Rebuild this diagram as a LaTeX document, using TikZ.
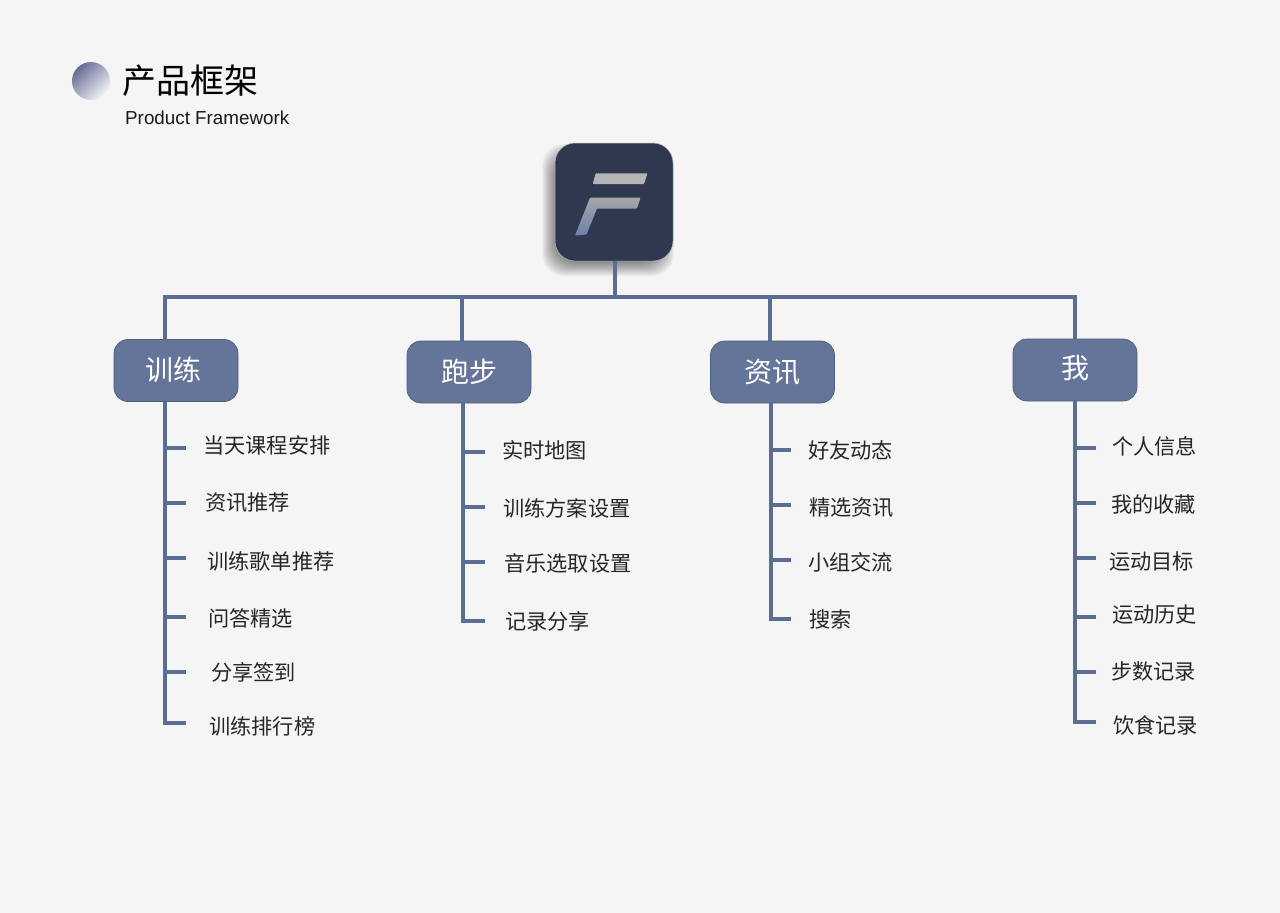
\documentclass[tikz,border=0pt]{standalone}
\usepackage{fontspec}
\setmainfont{Liberation Sans}
\newfontfamily\cjk{Noto Sans CJK SC}
\usepackage{tikz}
\usetikzlibrary{calc}
\definecolor{pagebg}{HTML}{F5F5F5}
\definecolor{linkblue}{HTML}{5B6D93}
\definecolor{groupblue}{HTML}{65759A}
\definecolor{rootdark}{HTML}{2F384F}
\definecolor{discdark}{HTML}{666C94}
\definecolor{flow}{HTML}{6C82AB}
\tikzstyle{rootbox} = [rectangle, draw=rootdark!35!white, line width=0.5pt, fill=rootdark, rounded corners=20pt, minimum width=118pt, minimum height=118pt, outer sep=0pt]
\tikzstyle{groupbox} = [rectangle, draw=linkblue!85!black, line width=0.7pt, fill=groupblue, text=white, rounded corners=14pt, minimum width=124pt, minimum height=62pt, outer sep=0pt, font=\cjk\fontsize{28}{28}\selectfont]
\tikzstyle{leaf} = [anchor=west, inner sep=0pt, text=black!85, font=\cjk\fontsize{21.2}{21.2}\selectfont]
\tikzstyle{link} = [draw=linkblue, line width=3.4pt]
\begin{document}
\begin{tikzpicture}[x=1pt,y=-1pt]
    \fill[pagebg] (0,0) rectangle (1280,913);
    \useasboundingbox (0,0) rectangle (1280,913);
    % heading
    \shade[shading=axis, left color=discdark, right color=white!92!discdark, shading angle=45] (91,81) circle (19);
    \node[anchor=west, inner sep=0pt, text=black, font=\cjk\fontsize{34}{34}\selectfont] (title) at (122,81) {产品框架};
    \node[anchor=west, inner sep=0pt, text=black!90, font=\fontsize{18.8}{18.8}\selectfont] (subtitle) at (125,118) {Product Framework};
    % soft shadow under the logo
    \foreach \s in {-7,-6,...,7}
        \fill[black, opacity=0.035, rounded corners=22pt] ({555-6-\s},{143+8-\s}) rectangle ({673-6+\s},{261+8+\s});
    \node[rootbox] (root) at (614,202) {};
    % the F
    \fill[gray!58!white, rounded corners=0.8pt] (595.7,173.3) -- (647.5,173.3) -- (644,184) -- (592.7,184) -- cycle;
    \shade[top color=gray!70!white, bottom color=flow, rounded corners=0.8pt] (590,197.7) -- (640.5,197.7) -- (637,208.5) -- (597,208.5) -- (586.5,234.5) -- (575,235.5) -- cycle;
    % groups
    \node[groupbox] (training) at (176,370.5) {\raisebox{4pt}{训练}\hspace*{6pt}};
    \node[groupbox] (running) at (469,372) {跑步};
    \node[groupbox] (news) at (772.5,372) {资讯};
    \node[groupbox] (mine) at (1075,370) {\raisebox{6pt}{我}};
    % trunk
    \coordinate (drop1) at (165,297);
    \coordinate (drop2) at (462,297);
    \coordinate (drop3) at (770,297);
    \coordinate (drop4) at (1075,297);
    \draw[link] (615,0 |- root.south) -- (615,297);
    \draw[link] (drop1 |- training.north) -- (drop1) -- (drop4) -- (drop4 |- mine.north);
    \draw[link] (drop2) -- (drop2 |- running.north);
    \draw[link] (drop3) -- (drop3 |- news.north);
    % training
    \foreach \i/\ty/\lx/\ly/\txt in {1/448/203/445/当天课程安排, 2/503/205/503/资讯推荐, 3/558/207/561/训练歌单推荐, 4/617/208/618/问答精选, 5/672/211/672/分享签到, 6/723/209/726/训练排行榜} {
        \coordinate (ta\i) at (165,\ty);
        \coordinate (ea\i) at (186,\ty);
        \node[leaf] (la\i) at (\lx,\ly) {\txt};
        \draw[link] (ta\i) -- (ea\i);
    }
    \draw[link] (ta1 |- training.south) -- (ta6) -- (ea6);
    % running
    \foreach \i/\ty/\lx/\ly/\txt in {1/452/502/450/实时地图, 2/507/503/508/训练方案设置, 3/562/504/563/音乐选取设置, 4/621/505/621/记录分享} {
        \coordinate (tb\i) at (463,\ty);
        \coordinate (eb\i) at (485,\ty);
        \node[leaf] (lb\i) at (\lx,\ly) {\txt};
        \draw[link] (tb\i) -- (eb\i);
    }
    \draw[link] (tb1 |- running.south) -- (tb4) -- (eb4);
    % news
    \foreach \i/\ty/\lx/\ly/\txt in {1/450/808/450/好友动态, 2/505/809/508/精选资讯, 3/560/808/562/小组交流, 4/619/809/619/搜索} {
        \coordinate (tc\i) at (771,\ty);
        \coordinate (ec\i) at (791,\ty);
        \node[leaf] (lc\i) at (\lx,\ly) {\txt};
        \draw[link] (tc\i) -- (ec\i);
    }
    \draw[link] (tc1 |- news.south) -- (tc4) -- (ec4);
    % mine
    \foreach \i/\ty/\lx/\ly/\txt in {1/448/1112/446/个人信息, 2/503/1111/504/我的收藏, 3/558/1109/561/运动目标, 4/617/1112/615/运动历史, 5/672/1111/671/步数记录, 6/722/1113/725/饮食记录} {
        \coordinate (td\i) at (1075,\ty);
        \coordinate (ed\i) at (1096,\ty);
        \node[leaf] (ld\i) at (\lx,\ly) {\txt};
        \draw[link] (td\i) -- (ed\i);
    }
    \draw[link] (td1 |- mine.south) -- (td6) -- (ed6);
\end{tikzpicture}
\end{document}
